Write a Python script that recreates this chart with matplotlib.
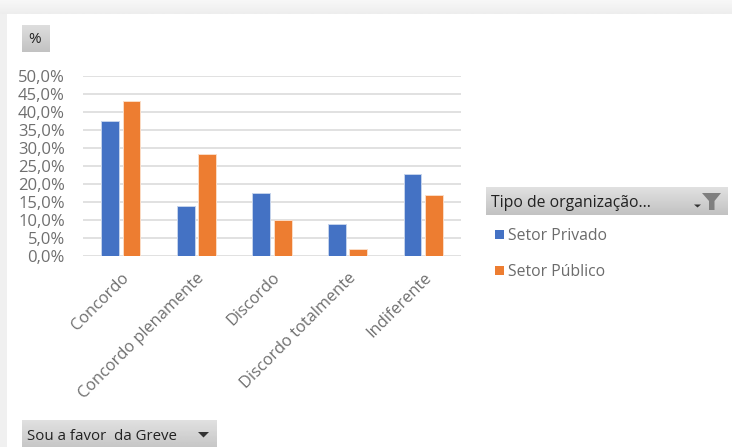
import numpy as np
import matplotlib
matplotlib.use('Agg')
import matplotlib.pyplot as plt
from matplotlib.patches import Rectangle, Polygon
from matplotlib.transforms import ScaledTranslation

categories = ['Concordo', 'Concordo plenamente', 'Discordo', 'Discordo totalmente', 'Indiferente']
setor_privado = [37.6, 13.8, 17.6, 8.9, 22.9]
setor_publico = [43.2, 28.3, 10.0, 2.0, 16.9]
y_ticks = [0, 5, 10, 15, 20, 25, 30, 35, 40, 45, 50]
y_labels = ['%.1f%%' % v for v in y_ticks]
y_labels = [s.replace('.', ',') for s in y_labels]
series_names = ['Setor Privado', 'Setor Público']
colors = ['#4472C4', '#ED7D31']

W, H = 732, 447
plt.rcParams['font.family'] = ['Open Sans', 'DejaVu Sans']

fig = plt.figure(figsize=(W / 100, H / 100), dpi=100, facecolor='white')

# overlay in pixel coordinates for the window and the pivot buttons
bg = fig.add_axes([0, 0, 1, 1], zorder=0)
bg.set_xlim(0, W)
bg.set_ylim(H, 0)
bg.axis('off')


def gradient(ax, x0, y0, x1, y1, top, bottom):
    g = np.linspace(top, bottom, 32).reshape(-1, 1)
    ax.imshow(g, extent=(x0, x1, y1, y0), cmap='gray', vmin=0, vmax=1,
              aspect='auto', interpolation='bilinear', zorder=2)


# grey shadow round the white panel
gradient(bg, 0, 0, W, 14, 0.97, 0.93)
gradient(bg, 0, 14, 7, H, 0.94, 0.94)
bg.add_patch(Rectangle((7, 14), W - 7, H - 14, fc='white', ec='none', zorder=3))

# pivot buttons
gradient(bg, 22, 25, 50, 52, 0.87, 0.76)
gradient(bg, 486, 187, 728, 215, 0.88, 0.76)
gradient(bg, 22, 420, 217, 447, 0.88, 0.78)
for im in bg.images:
    im.set_zorder(4)
bg.set_xlim(0, W)
bg.set_ylim(H, 0)

bg.text(34.5, 39.5, '%', fontsize=11, color='#222222', ha='center', va='center', zorder=5)
bg.text(491, 203, 'Tipo de organização...', fontsize=11.3, color='#222222', va='center', zorder=5)
bg.text(27, 436, 'Sou a favor  da Greve', fontsize=10.8, color='#222222', va='center', zorder=5)

# dropdown arrows and filter icon
bg.add_patch(Polygon([[198, 432], [209, 432], [203.5, 437.5]], fc='#333333', zorder=5))
bg.add_patch(Polygon([[694, 204.5], [701, 204.5], [697.5, 207.5]], fc='#333333', zorder=5))
bg.add_patch(Polygon([[702, 193], [721, 193], [714.5, 201], [714.5, 210], [709, 210], [709, 201]],
                     fc='#7f7f7f', zorder=5))

# legend
for name, c, y in zip(series_names, colors, [236.5, 272.5]):
    bg.add_patch(Rectangle((494.5, y - 7), 9.5, 9.5, fc=c, ec='none', zorder=5))
    bg.text(508.5, y, name, fontsize=11.3, color='#6b6b6b', va='center', zorder=5)

# chart
ax = fig.add_axes([83 / W, 1 - 256 / H, (461 - 83) / W, (256 - 76.5) / H], zorder=2)
ax.patch.set_alpha(0)
x = np.arange(len(categories))
ax.bar(x - 0.142, setor_privado, 0.235, color=colors[0], edgecolor='#c5d3ec', linewidth=0.7, zorder=3)
ax.bar(x + 0.142, setor_publico, 0.235, color=colors[1], edgecolor='#fbdcc6', linewidth=0.7, zorder=3)

ax.set_xlim(-0.5, len(categories) - 0.5)
ax.set_ylim(0, 50)
ax.set_yticks(y_ticks)
ax.set_yticklabels(y_labels, fontsize=12, color='#6f6f6f')
ax.set_xticks(x)
ax.set_xticklabels(categories, fontsize=11.8, color='#6f6f6f', rotation=45, ha='right',
                   rotation_mode='anchor')
# nudge the rotated labels a little to the left
shift = ScaledTranslation(-3 / 100, 0, fig.dpi_scale_trans)
for lab in ax.get_xticklabels():
    lab.set_transform(lab.get_transform() + shift)
ax.tick_params(axis='both', length=0)
ax.tick_params(axis='y', pad=13)
ax.tick_params(axis='x', pad=10)
ax.grid(axis='y', color='#dcdcdc', linewidth=1.2, zorder=0)
ax.set_axisbelow(True)
for s in ax.spines.values():
    s.set_visible(False)

fig.savefig('out.png', dpi=100)
